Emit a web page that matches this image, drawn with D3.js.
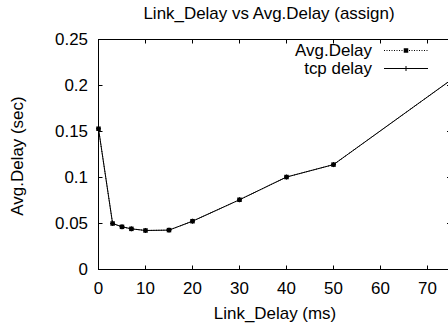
<!DOCTYPE html>
<html>
<head>
<meta charset="utf-8">
<script src="https://cdn.jsdelivr.net/npm/d3@7"></script>
<style>
  html, body { margin: 0; padding: 0; background: #fff; }
  svg { display: block; }
  text { font-family: "Liberation Sans", Arial, Helvetica, sans-serif; fill: #000; }
</style>
</head>
<body>
<svg id="chart" width="448" height="326"></svg>
<script>
// Link delay settings (ms) and measured average delay (sec)
const linkDelay = [0, 3, 5, 7, 10, 15, 20, 30, 40, 50, 75];
const avgDelay  = [0.153, 0.050, 0.0464, 0.0442, 0.0424, 0.0428, 0.0525, 0.0758, 0.1005, 0.114, 0.206];
const tcpDelay  = [0.153, 0.050, 0.0464, 0.0442, 0.0424, 0.0428, 0.0525, 0.0758, 0.1005, 0.114, 0.206];
const xTicks = [0, 10, 20, 30, 40, 50, 60, 70];
const yTicks = [0, 0.05, 0.1, 0.15, 0.2, 0.25];
const yTickLabels = ["0", "0.05", "0.1", "0.15", "0.2", "0.25"];

const svg = d3.select("#chart");
const plotL = 98.5, plotR = 451, plotT = 39.5, plotB = 269.5;
const x = d3.scaleLinear().domain([0, 75]).range([plotL, plotR]);
const y = d3.scaleLinear().domain([0, 0.25]).range([plotB, plotT]);

const FS = 16, SX = 1.06;
// text helper with slight horizontal stretch
function label(px, py, str, anchor, rot) {
  const g = svg.append("g")
    .attr("transform", `translate(${px},${py})` + (rot ? ` rotate(${rot})` : "") + ` scale(${SX},1)`);
  g.append("text").attr("text-anchor", anchor).attr("font-size", FS).text(str);
  return g;
}

// frame
svg.append("rect")
  .attr("x", plotL).attr("y", plotT)
  .attr("width", plotR - plotL).attr("height", plotB - plotT)
  .attr("fill", "none").attr("stroke", "#000").attr("stroke-width", 1);

// inward ticks on all four sides
const TL = 4;
const tickG = svg.append("g").attr("stroke", "#000").attr("stroke-width", 1);
xTicks.forEach(v => {
  tickG.append("line").attr("x1", x(v)).attr("x2", x(v)).attr("y1", plotB).attr("y2", plotB - TL);
  tickG.append("line").attr("x1", x(v)).attr("x2", x(v)).attr("y1", plotT).attr("y2", plotT + TL);
});
yTicks.forEach(v => {
  tickG.append("line").attr("x1", plotL).attr("x2", plotL + TL).attr("y1", y(v)).attr("y2", y(v));
  tickG.append("line").attr("x1", plotR).attr("x2", plotR - TL).attr("y1", y(v)).attr("y2", y(v));
});

// tick labels
xTicks.forEach(v => label(x(v), 293.5, String(v), "middle"));
yTicks.forEach((v, i) => label(88, y(v) + 5.5, yTickLabels[i], "end"));

// titles
label(269, 18.5, "Link_Delay vs Avg.Delay (assign)", "middle");
label(275, 318.5, "Link_Delay (ms)", "middle");
label(22.5, 156, "Avg.Delay (sec)", "middle", -90);

const line = d3.line().x(d => x(d[0])).y(d => y(d[1]));
const avgPts = linkDelay.map((d, i) => [d, avgDelay[i]]);
const tcpPts = linkDelay.map((d, i) => [d, tcpDelay[i]]);
const SQ = 4.5;

// Avg.Delay: dotted line with square points
svg.append("path").datum(avgPts).attr("d", line)
  .attr("fill", "none").attr("stroke", "#000").attr("stroke-width", 1)
  .attr("stroke-dasharray", "1,1.5");
svg.append("g").selectAll("rect").data(avgPts).join("rect")
  .attr("x", d => x(d[0]) - SQ / 2).attr("y", d => y(d[1]) - SQ / 2)
  .attr("width", SQ).attr("height", SQ).attr("fill", "#000");

// tcp delay: solid line with plus points
svg.append("path").datum(tcpPts).attr("d", line)
  .attr("fill", "none").attr("stroke", "#000").attr("stroke-width", 1);
const plus = svg.append("g").attr("stroke", "#000").attr("stroke-width", 1);
tcpPts.forEach(d => {
  plus.append("line").attr("x1", x(d[0]) - 2.5).attr("x2", x(d[0]) + 2.5).attr("y1", y(d[1])).attr("y2", y(d[1]));
  plus.append("line").attr("x1", x(d[0])).attr("x2", x(d[0])).attr("y1", y(d[1]) - 2.5).attr("y2", y(d[1]) + 2.5);
});

// legend
const lx1 = 384, lx2 = 428, lmid = 406;
const ly1 = 50.5, ly2 = 68.5;
label(372, ly1 + 5, "Avg.Delay", "end");
svg.append("line").attr("x1", lx1).attr("x2", lx2).attr("y1", ly1).attr("y2", ly1)
  .attr("stroke", "#000").attr("stroke-width", 1).attr("stroke-dasharray", "1,1.5");
svg.append("rect").attr("x", lmid - SQ / 2).attr("y", ly1 - SQ / 2).attr("width", SQ).attr("height", SQ).attr("fill", "#000");
label(372, ly2 + 5, "tcp delay", "end");
svg.append("line").attr("x1", lx1).attr("x2", lx2).attr("y1", ly2).attr("y2", ly2)
  .attr("stroke", "#000").attr("stroke-width", 1);
svg.append("line").attr("x1", lmid).attr("x2", lmid).attr("y1", ly2 - 2.5).attr("y2", ly2 + 2.5)
  .attr("stroke", "#000").attr("stroke-width", 1);
</script>
</body>
</html>
